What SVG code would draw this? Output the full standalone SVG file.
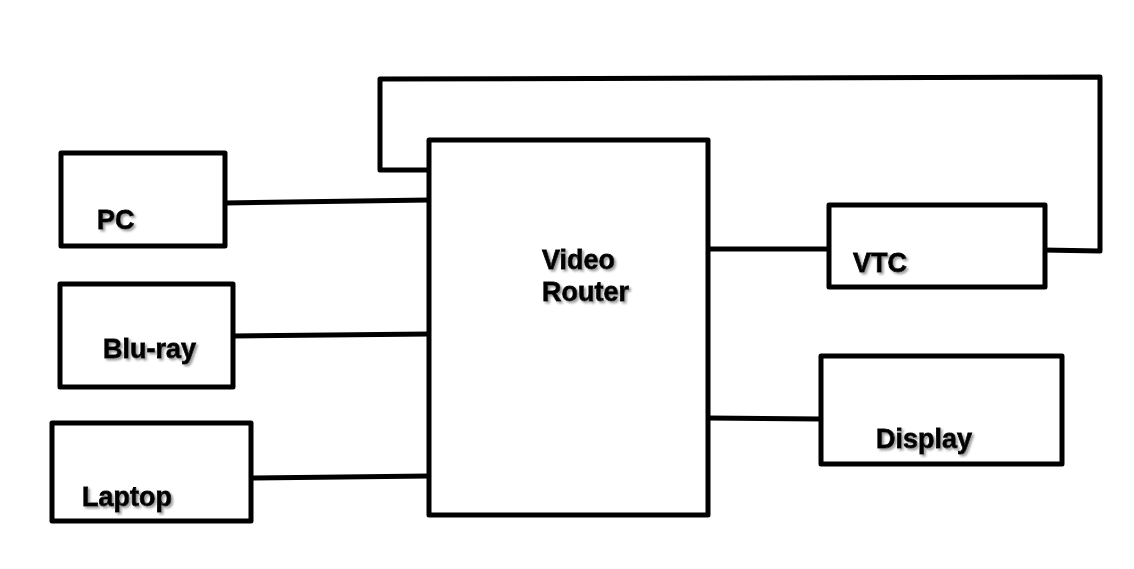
<svg xmlns="http://www.w3.org/2000/svg" width="1134" height="569" viewBox="0 0 1134 569">
<defs>
<filter id="sh" x="-20%" y="-30%" width="140%" height="160%">
<feDropShadow dx="2" dy="2" stdDeviation="1.2" flood-color="#888" flood-opacity="0.8"/>
</filter>
</defs>
<style>
.box{fill:#fff;stroke:#000;stroke-width:5;stroke-linejoin:round}
.ln{fill:none;stroke:#000;stroke-width:5;stroke-linejoin:round;stroke-linecap:round}
.t{font-family:"Liberation Sans",Arial,sans-serif;font-weight:bold;font-size:27px;fill:#000;stroke:#000;stroke-width:0.8;filter:url(#sh)}
</style>
<rect width="1134" height="569" fill="#fff"/>
<g id="connectors">
<path class="ln" d="M225,203 L429,200"/>
<path class="ln" d="M233,336 L429,334"/>
<path class="ln" d="M251,478 L429,476"/>
<path class="ln" d="M708,249 L829,249"/>
<path class="ln" d="M708,418 L821,419"/>
<path class="ln" d="M429,170 L380,170 L380,79 L1100,77 L1100,251 L1043,250"/>
</g>
<g id="router"><rect class="box" x="429" y="140" width="279" height="375"/>
<text class="t" x="542" y="269">Video</text><text class="t" x="542" y="301">Router</text></g>
<g id="pc"><rect class="box" x="61" y="153" width="164" height="93"/><text class="t" x="97" y="229">PC</text></g>
<g id="bluray"><rect class="box" x="60" y="284" width="173" height="103"/><text class="t" x="103" y="358">Blu-ray</text></g>
<g id="laptop"><rect class="box" x="52" y="423" width="199" height="98"/><text class="t" x="82" y="506">Laptop</text></g>
<g id="vtc"><rect class="box" x="829" y="205" width="216" height="82"/><text class="t" x="853" y="272">VTC</text></g>
<g id="display"><rect class="box" x="821" y="356" width="241" height="108"/><text class="t" x="876" y="448">Display</text></g>
</svg>
